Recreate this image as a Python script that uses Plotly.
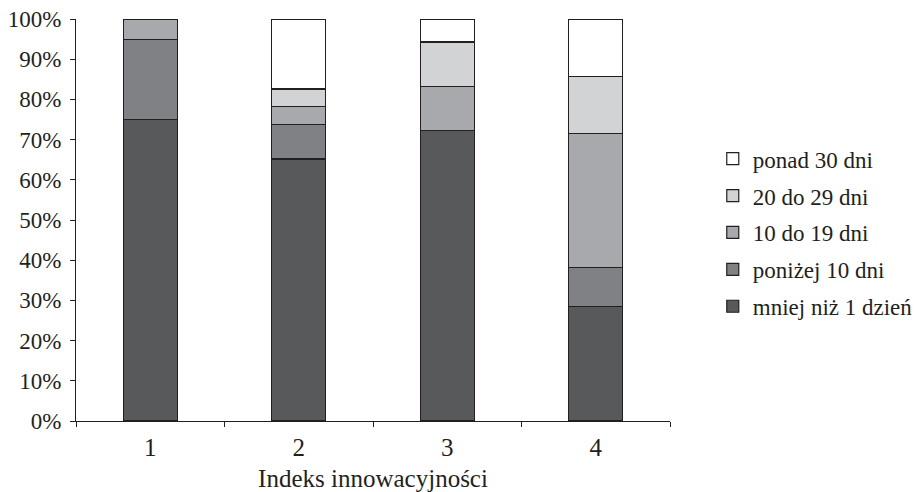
import plotly.graph_objects as go

categories = ["1", "2", "3", "4"]
series_names = ["mniej niż 1 dzień", "poniżej 10 dni", "10 do 19 dni", "20 do 29 dni", "ponad 30 dni"]
mniej_niz_1 = [75.0, 65.2, 72.2, 28.4]
ponizej_10 = [20.0, 8.5, 0.0, 9.7]
od_10_do_19 = [5.0, 4.5, 11.1, 33.4]
od_20_do_29 = [0.0, 4.4, 11.0, 14.1]
ponad_30 = [0.0, 17.4, 5.7, 14.4]
y_ticks = [0, 10, 20, 30, 40, 50, 60, 70, 80, 90, 100]
x_title = "Indeks innowacyjności"

series_values = [mniej_niz_1, ponizej_10, od_10_do_19, od_20_do_29, ponad_30]
colors = ["#58595b", "#808184", "#a7a9ac", "#d1d3d4", "#ffffff"]
FONT = "Liberation Serif"
INK = "#231f20"

x_pos = [1, 2, 3, 4]
fig = go.Figure()
n = len(series_names)
for i, (name, vals, col) in enumerate(zip(series_names, series_values, colors)):
    fig.add_trace(go.Bar(
        x=x_pos, y=[v if v > 0 else None for v in vals], name=name,
        legendgroup=f"g{i}", legendrank=n - i,
        marker=dict(color=col, line=dict(color=INK, width=1.2)),
        width=0.364,
    ))
fig.add_trace(go.Scatter(x=[1], y=[0], xaxis="x2", mode="markers",
                         marker=dict(opacity=0), showlegend=False, hoverinfo="skip"))

fig.update_layout(
    barmode="stack",
    width=913, height=484,
    margin=dict(l=68, r=251, t=11, b=71, pad=0, autoexpand=False),
    paper_bgcolor="white", plot_bgcolor="white",
    font=dict(family=FONT, size=23, color=INK),
    showlegend=True,
    legend=dict(
        x=1.072, y=0.706, xanchor="left", yanchor="top",
        traceorder="grouped", tracegroupgap=4,
        font=dict(family=FONT, size=23, color=INK),
        itemwidth=30,
    ),
    xaxis=dict(
        range=[0.5, 4.5], tickmode="array", tickvals=x_pos, ticktext=categories,
        ticks="", showline=True, linecolor=INK, linewidth=1.2,
        showgrid=False, zeroline=False, automargin=False,
        ticklabelstandoff=4,
        title=dict(text=x_title, font=dict(family=FONT, size=25), standoff=10),
        tickfont=dict(family=FONT, size=25),
    ),
    xaxis2=dict(
        range=[0.5, 4.5], overlaying="x", anchor="y", side="bottom",
        tickmode="array", tickvals=[0.5, 1.5, 2.5, 3.5, 4.5], ticktext=["", "", "", "", ""],
        ticks="outside", ticklen=5, tickcolor=INK, tickwidth=1.2,
        showline=False, showgrid=False, zeroline=False, showticklabels=False,
        automargin=False,
    ),
    yaxis=dict(
        range=[0, 100], tickmode="array", tickvals=y_ticks,
        ticktext=[f"{v}%" for v in y_ticks],
        ticks="outside", ticklen=5, tickcolor=INK, tickwidth=1.2,
        showline=True, linecolor=INK, linewidth=1.2,
        showgrid=False, zeroline=False, automargin=False,
        ticklabelstandoff=4, ticklabeloverflow="allow",
        tickfont=dict(family=FONT, size=23),
    ),
)

fig.write_html("out.html")
